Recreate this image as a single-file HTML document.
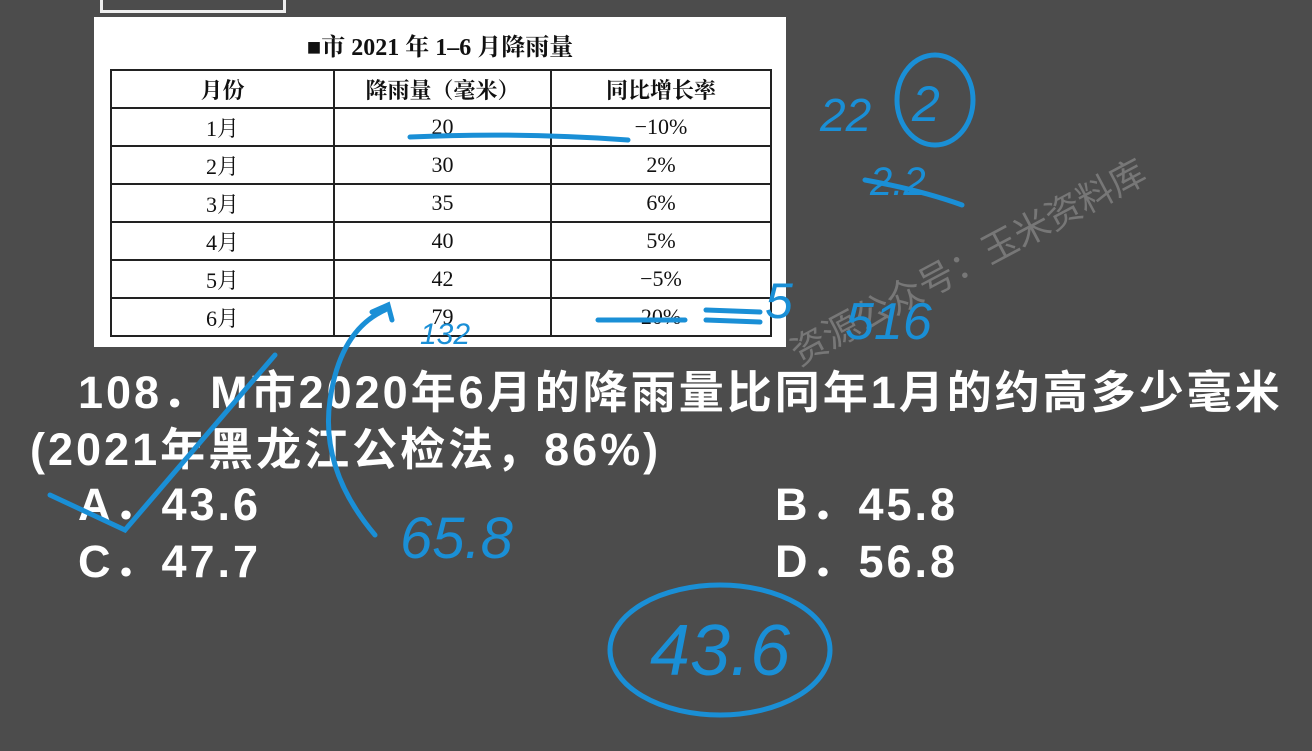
<!DOCTYPE html>
<html><head><meta charset="utf-8"><style>
body{margin:0;width:1312px;height:751px;background:#4c4c4c;overflow:hidden;position:relative;font-family:"Liberation Sans","Noto Sans CJK SC",sans-serif}
.abs{position:absolute}
#card{left:94px;top:17px;width:692px;height:330px;background:#fff}
table{position:absolute;left:16px;top:52px;border-collapse:collapse;font-family:"Liberation Serif","Noto Serif CJK SC",serif;font-size:22px;color:#111}
td{border:2px solid #222;text-align:center;height:36px;padding:0}
.q{color:#fff;font-weight:bold;font-size:45px;letter-spacing:3px;white-space:nowrap;line-height:52px;font-family:"Liberation Sans","Noto Sans CJK SC",sans-serif}
.o{letter-spacing:3px}
.hw{color:#1a8fd6;font-family:"Liberation Sans","Noto Sans CJK SC",sans-serif;font-style:italic}
</style></head><body>
<div class="abs" style="left:100px;top:-12px;width:180px;height:22px;border:3px solid #eee;border-top:none"></div>
<div id="card" class="abs">
 <div class="abs" style="left:0;width:692px;top:10px;text-align:center;font-family:'Liberation Serif','Noto Serif CJK SC',serif;font-weight:bold;font-size:24px;color:#111">■市 2021 年 1–6 月降雨量</div>
 <table>
  <tr style="font-weight:bold"><td style="width:221px;height:33px">月份</td><td style="width:215px">降雨量（毫米）</td><td style="width:218px">同比增长率</td></tr>
  <tr><td>1月</td><td>20</td><td>−10%</td></tr>
  <tr><td>2月</td><td>30</td><td>2%</td></tr>
  <tr><td>3月</td><td>35</td><td>6%</td></tr>
  <tr><td>4月</td><td>40</td><td>5%</td></tr>
  <tr><td>5月</td><td>42</td><td>−5%</td></tr>
  <tr><td>6月</td><td>79</td><td>20%</td></tr>
 </table>
</div>
<div class="abs" style="left:780px;top:330px;font-size:36px;color:rgba(200,200,200,0.35);transform:rotate(-28deg);transform-origin:left top;white-space:nowrap">资源公众号：玉米资料库</div>
<div class="abs q" style="left:78px;top:367px">108．M市2020年6月的降雨量比同年1月的约高多少毫米</div>
<div class="abs q" style="left:30px;top:424px">(2021年黑龙江公检法，86%)</div>
<div class="abs q o" style="left:78px;top:479px">A．43.6</div>
<div class="abs q o" style="left:775px;top:479px">B．45.8</div>
<div class="abs q o" style="left:78px;top:536px">C．47.7</div>
<div class="abs q o" style="left:775px;top:536px">D．56.8</div>
<svg class="abs" style="left:0;top:0" width="1312" height="751" fill="none" stroke="#1a8fd6" stroke-width="5" stroke-linecap="round">
 <path d="M410 137 Q520 132 628 140"/>
 <path d="M598 320 L685 320 M706 310 L760 312 M706 320 L760 322"/>
 <path d="M50 495 L125 530 L275 355"/>
 <path d="M375 535 Q320 470 330 400 Q340 330 385 310 M372 312 L388 305 L392 320"/>
 <path d="M865 180 Q920 190 962 205"/>
 <ellipse cx="935" cy="100" rx="38" ry="45"/>
 <ellipse cx="720" cy="650" rx="110" ry="65"/>
</svg>
<div class="abs hw" style="left:820px;top:88px;font-size:46px">22</div>
<div class="abs hw" style="left:912px;top:75px;font-size:50px">2</div>
<div class="abs hw" style="left:870px;top:160px;font-size:40px">2.2</div>
<div class="abs hw" style="left:845px;top:292px;font-size:52px">516</div>
<div class="abs hw" style="left:765px;top:272px;font-size:50px">5</div>
<div class="abs hw" style="left:420px;top:318px;font-size:30px">132</div>
<div class="abs hw" style="left:400px;top:505px;font-size:58px">65.8</div>
<div class="abs hw" style="left:650px;top:610px;font-size:72px">43.6</div>
</body></html>
